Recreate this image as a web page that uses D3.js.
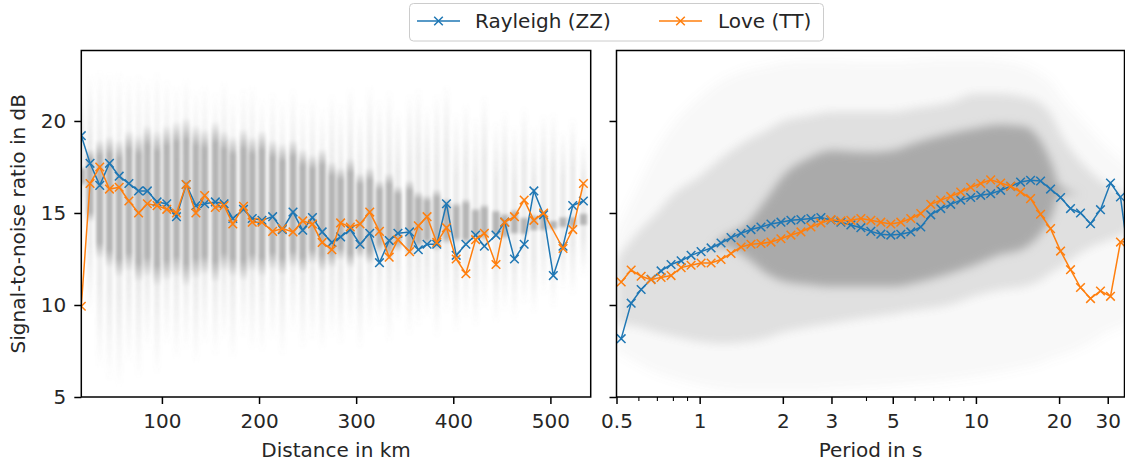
<!DOCTYPE html>
<html>
<head>
<meta charset="utf-8">
<script src="https://cdn.jsdelivr.net/npm/d3@7"></script>
<style>
  body { margin: 0; background: #fff; }
  svg { display: block; font-family: "DejaVu Sans", sans-serif; }
</style>
</head>
<body>
<div id="chart"></div>
<script>
// ---- left panel: snr vs inter-station distance ----
const distKm = [17, 26, 36, 46, 56, 66, 76, 85, 95, 105, 115, 125, 135, 144, 155, 164, 173, 184, 193, 203,
  214, 224, 235, 245, 255, 265, 275, 284, 294, 304, 314, 324, 334, 343, 355, 364, 373, 383, 393, 403,
  413, 423, 432, 444, 453, 463, 473, 483, 493, 503, 513, 523, 534];
const distRayleigh = [19.2, 17.7, 16.5, 17.7, 17.0, 16.6, 16.2, 16.2, 15.6, 15.5, 14.8, 16.55, 15.4, 15.5, 15.6, 15.5, 14.7, 15.2, 14.7, 14.6,
  14.8, 14.1, 15.05, 14.06, 14.75, 13.97, 13.4, 13.7, 14.1, 13.3, 13.9, 12.3, 13.5, 13.9, 13.97, 13.0, 13.3, 13.3, 15.5, 12.7,
  13.3, 13.8, 13.2, 13.8, 14.5, 12.5, 13.3, 16.2, 14.9, 11.6, 13.2, 15.4, 15.65];
const distLove = [9.93, 16.6, 17.5, 16.3, 16.4, 15.65, 15.0, 15.5, 15.4, 15.2, 15.0, 16.55, 15.0, 15.95, 15.3, 15.4, 14.4, 15.36, 14.5, 14.5,
  14.0, 14.15, 13.97, 14.57, 14.4, 13.4, 13.0, 14.46, 14.24, 14.4, 15.05, 14.0, 12.6, 13.55, 12.9, 14.3, 14.8, 13.4, 14.2, 12.5,
  11.7, 13.55, 13.9, 12.2, 14.5, 14.8, 15.7, 14.6, 15.0, null, 13.07, 14.1, 16.6];
// scatter cloud per distance bin (faint extent and dense core)
const distCloudHi = [21.5, 22.6, 22.8, 22.7, 22.8, 22.5, 22.6, 22.4, 22.7, 22.3, 22.0, 22.4, 21.8, 22.0, 21.6, 22.2, 21.5, 21.8, 22.0, 21.3,
  21.6, 21.2, 21.8, 21.0, 21.3, 20.8, 21.5, 21.0, 21.9, 20.8, 22.0, 21.2, 21.7, 20.6, 21.5, 21.8, 20.8, 21.5, 22.0, 20.5,
  21.0, 20.2, 21.4, 20.0, 20.6, 19.8, 20.8, 19.8, 20.4, 20.5, 19.5, 20.2, 19.0];
const distCloudLo = [14.0, 9.5, 6.5, 5.8, 5.5, 6.8, 6.0, 7.5, 6.2, 7.8, 7.0, 7.5, 6.8, 7.8, 7.2, 8.0, 7.0, 8.2, 7.5, 7.4,
  8.0, 7.2, 8.5, 7.6, 8.0, 7.5, 8.2, 7.8, 8.6, 7.6, 8.5, 8.8, 7.9, 9.0, 8.3, 8.8, 9.2, 8.2, 9.5, 8.5,
  9.3, 8.8, 9.8, 9.0, 9.6, 9.2, 10.0, 9.5, 10.5, 9.8, 10.8, 10.5, 11.5];
const distCoreHi = [17.5, 18.5, 19.0, 19.2, 19.0, 19.5, 19.3, 19.8, 19.5, 19.8, 20.0, 20.2, 19.8, 19.6, 20.0, 19.5, 19.2, 19.6, 19.2, 19.5,
  19.0, 18.8, 19.0, 18.5, 18.2, 18.5, 17.8, 17.5, 18.0, 17.2, 17.5, 16.8, 17.2, 16.5, 16.8, 16.2, 16.0, 16.3, 15.8, 15.6,
  15.8, 15.3, 15.5, 15.2, 15.0, 15.2, 14.8, 14.9, 15.0, 14.6, 14.8, 14.8, 15.0];
const distCoreLo = [16.5, 14.5, 12.5, 12.0, 11.5, 11.8, 11.2, 11.5, 11.0, 11.3, 11.5, 11.0, 11.4, 11.6, 11.2, 11.8, 11.5, 11.3, 11.8, 11.5,
  11.9, 11.6, 12.0, 11.7, 12.2, 11.8, 12.0, 12.4, 12.0, 12.5, 12.2, 12.8, 12.4, 12.9, 12.6, 13.0, 13.2, 12.9, 13.3, 13.4,
  13.3, 13.6, 13.5, 13.7, 13.6, 13.8, 13.8, 14.0, 14.0, 14.1, 14.2, 14.2, 14.3];

// ---- right panel: snr vs period ----
const periodS = [0.520, 0.565, 0.614, 0.667, 0.725, 0.788, 0.857, 0.931, 1.012, 1.100, 1.195, 1.299, 1.412, 1.534, 1.667, 1.812, 1.969,
  2.140, 2.326, 2.528, 2.747, 2.986, 3.245, 3.527, 3.833, 4.165, 4.527, 4.920, 5.347, 5.811, 6.315, 6.863, 7.459, 8.106,
  8.810, 9.574, 10.41, 11.31, 12.29, 13.36, 14.51, 15.77, 17.14, 18.63, 20.25, 22.00, 23.91, 25.99, 28.24, 30.70, 33.36, 36.26];
const periodRayleigh = [8.17, 10.1, 10.84, 11.4, 11.85, 12.2, 12.4, 12.7, 12.9, 13.1, 13.37, 13.66, 13.9, 14.1, 14.24, 14.4, 14.5,
  14.6, 14.64, 14.7, 14.75, 14.62, 14.5, 14.35, 14.2, 14.0, 13.85, 13.8, 13.84, 13.97, 14.24, 14.9, 15.24, 15.47,
  15.7, 15.84, 15.96, 16.05, 16.23, 16.45, 16.68, 16.78, 16.74, 16.3, 15.84, 15.24, 15.0, 14.42, 15.18, 16.63, 15.87, 11.8];
const periodLove = [11.25, 11.9, 11.56, 11.38, 11.5, 11.6, 12.03, 12.16, 12.28, 12.28, 12.47, 12.8, 13.15, 13.3, 13.34, 13.42, 13.6,
  13.8, 13.97, 14.24, 14.46, 14.64, 14.57, 14.6, 14.7, 14.6, 14.5, 14.4, 14.5, 14.7, 14.97, 15.47, 15.7, 15.9,
  16.14, 16.4, 16.6, 16.8, 16.63, 16.45, 16.14, 15.78, 14.93, 14.15, 12.93, 11.92, 10.95, 10.35, 10.76, 10.47, 13.42, 13.45];
// scatter cloud envelopes along period
const cloudPeriods = [0.5, 0.6, 0.7, 0.8, 1, 1.2, 1.5, 1.75, 2, 2.5, 3, 4, 5, 6, 8, 10, 12, 15, 17, 19, 20, 25, 30, 36];
const cloudOuterLo = [7.5, 6.8, 6.3, 6.0, 5.6, 5.4, 5.3, 5.3, 5.3, 5.3, 5.4, 5.5, 5.6, 5.7, 5.9, 6.1, 6.3, 6.6, 6.8, 7.1, 7.2, 7.8, 8.5, 9.0];
const cloudOuterHi = [14.0, 16.5, 18.5, 19.8, 21.3, 22.2, 22.8, 23.0, 23.2, 23.3, 23.3, 23.2, 23.2, 23.3, 23.4, 23.4, 23.3, 23.0, 22.6, 22.0, 21.5, 19.8, 18.5, 17.5];
const cloudMidLo = [9.0, 8.8, 8.5, 8.3, 8.0, 7.9, 8.0, 8.2, 8.5, 8.8, 9.0, 9.3, 9.5, 9.7, 10.0, 10.5, 10.8, 11.0, 11.3, 11.8, 12.0, 13.0, 13.5, 14.0];
const cloudMidHi = [12.5, 14.0, 15.0, 16.0, 17.0, 18.0, 19.0, 19.5, 20.0, 20.3, 20.5, 20.5, 20.5, 20.7, 21.0, 21.5, 21.5, 21.3, 21.0, 20.2, 19.5, 17.5, 16.5, 16.0];
const cloudCoreLo = [12.5, 12.5, 12.5, 12.5, 12.5, 13.2, 12.5, 11.7, 11.3, 11.1, 11.0, 11.0, 11.0, 11.2, 11.7, 12.2, 12.7, 13.1, 13.8, 15.0, 16.0, 16.0, 16.0, 16.0];
const cloudCoreHi = [12.5, 12.5, 12.5, 12.5, 12.5, 13.6, 14.5, 15.8, 17.0, 18.0, 18.4, 18.3, 18.4, 18.8, 19.3, 19.6, 19.8, 19.7, 19.0, 17.5, 16.5, 16.0, 16.0, 16.0];

// ---- axes ----
const snrTicks = [5, 10, 15, 20];
const distTicks = [100, 200, 300, 400, 500];
const periodTicks = [0.5, 1, 2, 3, 5, 10, 20, 30];
const periodMinorTicks = [0.6, 0.7, 0.8, 0.9, 4, 6, 7, 8, 9];

const series = [
  { name: 'Rayleigh (ZZ)', color: '#1f77b4' },
  { name: 'Love (TT)', color: '#ff7f0e' },
];

const W = 1125, H = 463;
const plotTop = 50.5, plotBottom = 397;
const left = { x0: 81.3, x1: 590.7 };
const right = { x0: 616.5, x1: 1124.5 };

const svg = d3.select('#chart').append('svg').attr('width', W).attr('height', H);
const defs = svg.append('defs');

const y = d3.scaleLinear().domain([5, 23.83]).range([plotBottom, plotTop]);
const xDist = d3.scaleLinear().domain([17, 541.5]).range([left.x0, left.x1]);
const xPer = d3.scaleLog().domain([0.5, 34.5]).range([right.x0, right.x1]);

// clip + soft filters
[['clipL', left], ['clipR', right]].forEach(([id, p]) => {
  defs.append('clipPath').attr('id', id).append('rect')
    .attr('x', p.x0).attr('y', plotTop).attr('width', p.x1 - p.x0).attr('height', plotBottom - plotTop);
});
const blur = (id, sd) => defs.append('filter').attr('id', id)
  .attr('x', '-20%').attr('y', '-20%').attr('width', '140%').attr('height', '140%')
  .append('feGaussianBlur').attr('stdDeviation', sd);
blur('soft', 5);
blur('softS', 1.6);

// vertical fade for the streaks
function fade(id, color, peak, edge) {
  const g = defs.append('linearGradient').attr('id', id).attr('x1', 0).attr('y1', 0).attr('x2', 0).attr('y2', 1);
  [[0, 0], [edge, peak], [1 - edge, peak], [1, 0]].forEach(([o, a]) => {
    g.append('stop').attr('offset', o).attr('stop-color', color).attr('stop-opacity', a);
  });
}
fade('fadeOuter', '#8a8a8a', 0.17, 0.3);
fade('fadeCore', '#aaaaaa', 0.85, 0.14);

// ---- left panel cloud ----
const gL = svg.append('g').attr('clip-path', 'url(#clipL)');
const cloudL = gL.append('g').attr('filter', 'url(#softS)');
const bw = xDist(distKm[1]) - xDist(distKm[0]);
cloudL.selectAll('.outer').data(distKm).enter().append('rect')
  .attr('x', d => xDist(d) - bw * 0.35).attr('width', bw * 0.7)
  .attr('y', (d, i) => y(distCloudHi[i]))
  .attr('height', (d, i) => y(distCloudLo[i]) - y(distCloudHi[i]))
  .attr('fill', 'url(#fadeOuter)');
cloudL.selectAll('.core').data(distKm).enter().append('rect')
  .attr('x', d => xDist(d) - bw * 0.42).attr('width', bw * 0.84)
  .attr('y', (d, i) => y(distCoreHi[i]))
  .attr('height', (d, i) => y(distCoreLo[i]) - y(distCoreHi[i]))
  .attr('fill', 'url(#fadeCore)');

// ---- right panel cloud ----
const gR = svg.append('g').attr('clip-path', 'url(#clipR)');
const cloudR = gR.append('g').attr('filter', 'url(#soft)');
function band(lo, hi, fill, op) {
  const area = d3.area()
    .x(d => xPer(d))
    .y0((d, i) => y(lo[i]))
    .y1((d, i) => y(hi[i]))
    .curve(d3.curveMonotoneX);
  cloudR.append('path').datum(cloudPeriods).attr('d', area).attr('fill', fill).attr('fill-opacity', op);
}
band(cloudOuterLo, cloudOuterHi, '#8a8a8a', 0.06);
band(cloudMidLo, cloudMidHi, '#a0a0a0', 0.26);
band(cloudCoreLo, cloudCoreHi, '#aaaaaa', 1);

// ---- lines with x markers ----
function drawSeries(g, x, xs, ys, color) {
  const pts = xs.map((v, i) => [v, ys[i]]).filter(d => d[1] != null);
  g.append('path').datum(pts)
    .attr('fill', 'none').attr('stroke', color).attr('stroke-width', 1.5)
    .attr('d', d3.line().x(d => x(d[0])).y(d => y(d[1])));
  g.append('g').selectAll('path').data(pts).enter().append('path')
    .attr('transform', d => `translate(${x(d[0])},${y(d[1])})`)
    .attr('d', d3.symbol(d3.symbolX, 50))
    .attr('fill', 'none').attr('stroke', color).attr('stroke-width', 1.5);
}
drawSeries(gL, xDist, distKm, distRayleigh, series[0].color);
drawSeries(gL, xDist, distKm, distLove, series[1].color);
drawSeries(gR, xPer, periodS, periodRayleigh, series[0].color);
drawSeries(gR, xPer, periodS, periodLove, series[1].color);

// ---- axes ----
function styleAxis(sel) {
  sel.select('.domain').remove();
  sel.selectAll('.tick line').attr('stroke', '#000').attr('stroke-width', 1.5);
  sel.selectAll('.tick text').attr('fill', '#262626').attr('font-size', 20).attr('font-family', '"DejaVu Sans", sans-serif');
}
svg.append('g').attr('transform', `translate(0,${plotBottom})`)
  .call(d3.axisBottom(xDist).tickValues(distTicks).tickSize(7).tickPadding(9.8))
  .call(styleAxis);
svg.append('g').attr('transform', `translate(0,${plotBottom})`)
  .call(d3.axisBottom(xPer).tickValues(periodTicks).tickSize(7).tickPadding(9.8).tickFormat(d3.format('~g')))
  .call(styleAxis);
svg.append('g').attr('transform', `translate(0,${plotBottom})`)
  .call(d3.axisBottom(xPer).tickValues(periodMinorTicks).tickSize(4).tickFormat(''))
  .call(styleAxis)
  .selectAll('.tick line').attr('stroke-width', 1.1);
svg.append('g').attr('transform', `translate(${left.x0},0)`)
  .call(d3.axisLeft(y).tickValues(snrTicks).tickSize(7).tickPadding(8))
  .call(styleAxis);
svg.append('g').attr('transform', `translate(${right.x0},0)`)
  .call(d3.axisLeft(y).tickValues(snrTicks).tickSize(7).tickFormat(''))
  .call(styleAxis);

// spines
[left, right].forEach(p => {
  svg.append('rect')
    .attr('x', p.x0).attr('y', plotTop).attr('width', p.x1 - p.x0).attr('height', plotBottom - plotTop)
    .attr('fill', 'none').attr('stroke', '#000').attr('stroke-width', 1.5);
});

// axis titles
svg.append('text').attr('x', (left.x0 + left.x1) / 2).attr('y', 457)
  .attr('text-anchor', 'middle').attr('font-size', 20).attr('fill', '#262626').text('Distance in km');
svg.append('text').attr('x', (right.x0 + right.x1) / 2).attr('y', 457)
  .attr('text-anchor', 'middle').attr('font-size', 20).attr('fill', '#262626').text('Period in s');
svg.append('text').attr('transform', `translate(25,${(plotTop + plotBottom) / 2}) rotate(-90)`)
  .attr('text-anchor', 'middle').attr('font-size', 20).attr('fill', '#262626').text('Signal-to-noise ratio in dB');

// legend
const leg = svg.append('g');
leg.append('rect').attr('x', 409.5).attr('y', 3.5).attr('width', 414).attr('height', 37.5).attr('rx', 4)
  .attr('fill', '#fff').attr('fill-opacity', 0.8).attr('stroke', '#cccccc');
const legItems = [{ s: series[0], x: 417, tx: 475 }, { s: series[1], x: 659, tx: 718 }];
const li = leg.selectAll('g.item').data(legItems).enter().append('g').attr('class', 'item');
li.append('line').attr('x1', d => d.x).attr('x2', d => d.x + 43).attr('y1', 21).attr('y2', 21)
  .attr('stroke', d => d.s.color).attr('stroke-width', 1.5);
li.append('path').attr('transform', d => `translate(${d.x + 21.5},21)`)
  .attr('d', d3.symbol(d3.symbolX, 50)).attr('fill', 'none')
  .attr('stroke', d => d.s.color).attr('stroke-width', 1.5);
li.append('text').attr('x', d => d.tx).attr('y', 28).attr('font-size', 20).attr('fill', '#262626')
  .text(d => d.s.name);
</script>
</body>
</html>
